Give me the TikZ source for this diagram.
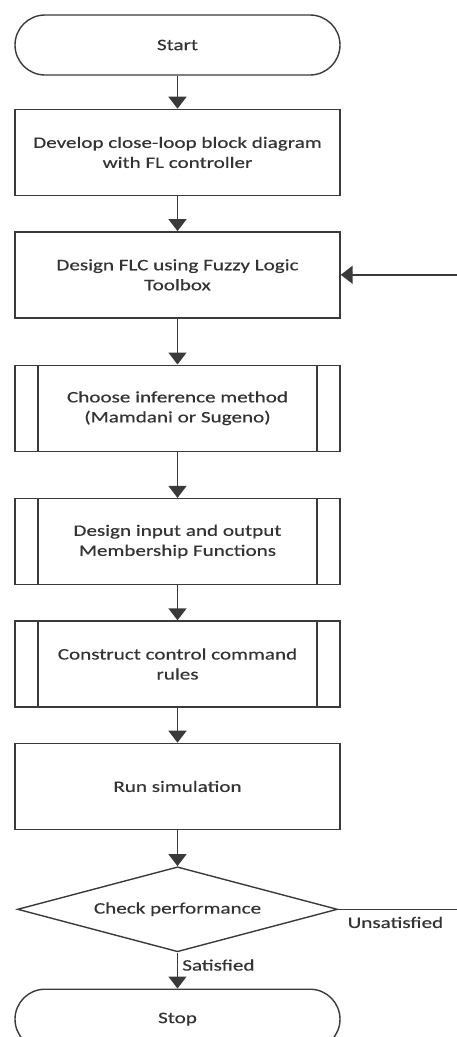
\documentclass[tikz,border=0pt]{standalone}
\usepackage{fontspec}
\setmainfont{Carlito}[FakeStretch=1.32,FakeBold=0.4]
\usepackage{tikz}
\usetikzlibrary{arrows.meta,positioning,shapes.geometric}
\definecolor{LineGray}{HTML}{3A3A3A}
\definecolor{TextGray}{HTML}{333333}

\begin{document}
\begin{tikzpicture}[node distance=35pt, every node/.style={font=\fontsize{16}{20}\selectfont, text=TextGray},
	arr/.style={-{Triangle[length=12pt,width=18pt]},line width=1.6pt,LineGray},
	term/.style={draw=LineGray,line width=1.4pt,rounded corners=30pt,minimum width=325pt,minimum height=60pt},
	proc/.style={draw=LineGray,line width=1.4pt,minimum width=325pt,minimum height=86pt,align=center},
	subproc/.style={proc,path picture={\draw[LineGray,line width=1.4pt]
		([xshift=23pt]path picture bounding box.north west)--([xshift=23pt]path picture bounding box.south west)
		([xshift=-23pt]path picture bounding box.north east)--([xshift=-23pt]path picture bounding box.south east);}},
	decide/.style={diamond,draw=LineGray,line width=1.4pt,aspect=3.74,minimum width=320pt,minimum height=85pt,inner sep=0pt}]
		\useasboundingbox (0,0) rectangle (457pt,-1037pt);
		\coordinate (edge) at (457pt,0);
		\node[term] (start) at (177.5pt,-45pt) {Start};
		\node[proc,below=33pt of start] (dev) {Develop close-loop block diagram\\with FL controller};
		\node[proc,below=of dev] (flc) {Design FLC using Fuzzy Logic\\Toolbox};
		\node[subproc,below=46pt of flc] (infer) {Choose inference method\\(Mamdani or Sugeno)};
		\node[subproc,below=46pt of infer] (mf) {Design input and output\\Membership Functions};
		\node[subproc,below=of mf] (rules) {Construct control command\\rules};
		\node[proc,below=of rules] (sim) {Run simulation};
		\node[decide,below=36pt of sim] (check) {Check performance};
		\node[term,below=36pt of check] (stop) {Stop};
		\draw[arr] (start)--(dev); \draw[arr] (dev)--(flc); \draw[arr] (flc)--(infer); \draw[arr] (infer)--(mf);
		\draw[arr] (mf)--(rules); \draw[arr] (rules)--(sim); \draw[arr] (sim)--(check);
		\draw[arr] (check)-- node[right,pos=0.35,inner sep=4pt] {Satisfied} (stop);
		% feedback leaves the page on the right
		\draw[LineGray,line width=1.6pt] (check.east)--(check.east -| edge);
		\node[below right=4pt and 6pt of check.east] (unsat) {Unsatisfied};
		\draw[arr] (flc.east -| edge)--(flc.east);
	\end{tikzpicture}
\end{document}
